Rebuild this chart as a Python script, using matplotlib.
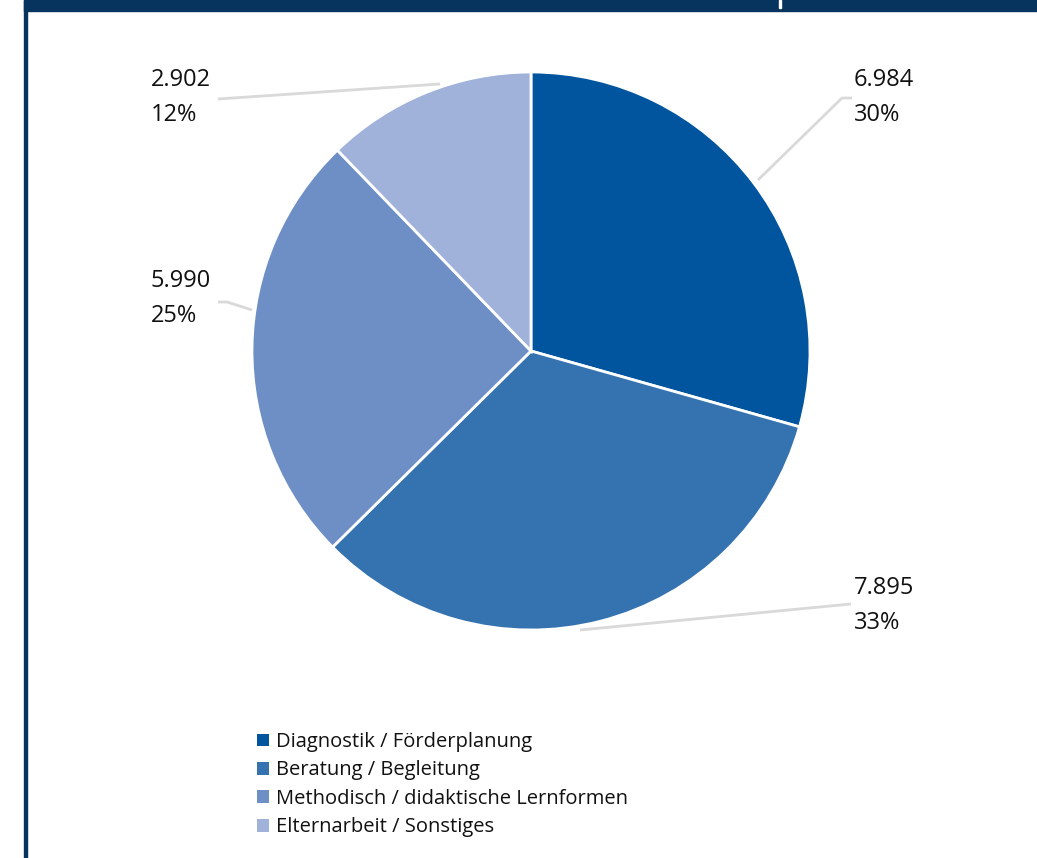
import matplotlib
matplotlib.use("Agg")
import matplotlib.pyplot as plt
from matplotlib.patches import Rectangle, Patch

plt.rcParams['font.family'] = ['Open Sans', 'DejaVu Sans']

categories = ["Diagnostik / Förderplanung", "Beratung / Begleitung",
              "Methodisch / didaktische Lernformen", "Elternarbeit / Sonstiges"]
values = [6984, 7895, 5990, 2902]
value_labels = ["6.984", "7.895", "5.990", "2.902"]
pct_labels = ["30%", "33%", "25%", "12%"]
colors = ["#00559E", "#3572B0", "#6D8FC5", "#A0B2DA"]

W, H = 1037, 858
fig = plt.figure(figsize=(W / 100, H / 100), dpi=100)
fig.patch.set_facecolor("white")
ax = fig.add_axes([0, 0, 1, 1])
ax.set_xlim(0, W)
ax.set_ylim(0, H)
ax.set_aspect("equal")
ax.axis("off")

def Y(y):
    return H - y

# frame decorations
ax.add_patch(Rectangle((24, 0), 2.5, H, color="#07335F", zorder=1))
ax.add_patch(Rectangle((24, Y(11)), W - 24, 11, color="#07335F", zorder=1))
ax.add_patch(Rectangle((779, Y(8)), 2, 8, color="white", zorder=2))

cx, cy, r = 531, 351, 279
wedges, _ = ax.pie(values, colors=colors, startangle=90, counterclock=False,
                   center=(cx, Y(cy)), radius=r, frame=True,
                   wedgeprops=dict(edgecolor="white", linewidth=2))
ax.set_xlim(0, W)
ax.set_ylim(0, H)
ax.axis("off")

lc = "#D9D9D9"
leaders = [
    [(758, 180), (842, 98), (852, 98)],
    [(580, 630), (851, 604)],
    [(252, 310), (227, 302), (218, 302)],
    [(440, 84), (218, 99)],
]
for pts in leaders:
    xs = [p[0] for p in pts]
    ys = [Y(p[1]) for p in pts]
    ax.plot(xs, ys, color=lc, lw=2, solid_capstyle="butt", zorder=3)

label_pos = [(854, 80), (854, 588), (151, 281), (151, 80)]
fs = 17
for (lx, ly), vl, pl in zip(label_pos, value_labels, pct_labels):
    ax.text(lx, Y(ly), vl, fontsize=fs, color="#111111", ha="left", va="center")
    ax.text(lx, Y(ly + 35), pl, fontsize=fs, color="#111111", ha="left", va="center")

handles = [Patch(facecolor=c, edgecolor="none") for c in colors]
leg = fig.legend(handles, categories, loc="upper left",
                 bbox_to_anchor=(257 / W, 1 - 732 / H), frameon=False,
                 fontsize=14.5, handlelength=0.6, handleheight=0.6,
                 handletextpad=0.35, labelspacing=0.42, borderaxespad=0,
                 borderpad=0)
for t in leg.get_texts():
    t.set_color("#111111")

fig.savefig("out.png", dpi=100, facecolor="white")
